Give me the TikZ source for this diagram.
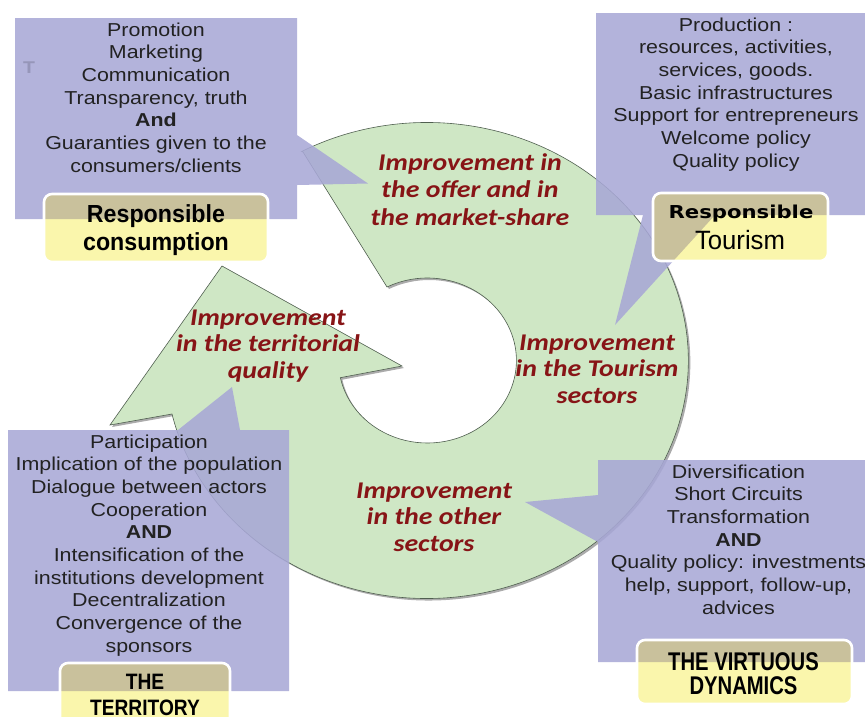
\documentclass[tikz,border=0pt]{standalone}
\usepackage{fontspec}
\setmainfont{Liberation Sans}
\newfontfamily\boxf{Liberation Sans}[FakeStretch=1.145]
\newfontfamily\lblA{Liberation Sans}[FakeStretch=0.94]
\newfontfamily\lblB{Liberation Sans}[FakeStretch=0.86]
\newfontfamily\lblC{Liberation Sans}[FakeStretch=0.79]
\newfontfamily\lblD{Liberation Sans}[FakeStretch=0.97]
\newfontfamily\blk{DejaVu Sans}[FakeStretch=1.19]
\newfontfamily\itf{Carlito}[FakeStretch=1.16]
\definecolor{ringgreen}{RGB}{207,231,197}
\definecolor{ringedge}{RGB}{80,95,80}
\definecolor{boxblue}{RGB}{168,168,214}
\definecolor{lblyellow}{RGB}{250,246,172}
\definecolor{lbltan}{RGB}{201,193,156}
\definecolor{txt}{RGB}{34,34,34}
\definecolor{impred}{RGB}{135,20,22}
\definecolor{tgray}{RGB}{150,150,185}
\newcommand{\lns}[1]{\begin{tabular}[t]{@{}c@{}}#1\end{tabular}}
\begin{document}
\begin{tikzpicture}[x=1pt,y=-1pt,
  ringfill/.style={fill=ringgreen, draw=ringedge, line width=0.6pt},
  ringshadow/.style={fill=black!55, fill opacity=0.6},
  bluebox/.style={fill=boxblue, fill opacity=0.88},
  lblbox/.style={fill=lblyellow, rounded corners=8pt},
  lblborder/.style={draw=white, line width=2.6pt, rounded corners=8pt},
  boxtext/.style={anchor=base, inner sep=0pt, text=txt, font=\boxf\fontsize{18.7}{22.7}\selectfont},
  imp/.style={anchor=base, inner sep=0pt, text=impred, font=\itf\bfseries\itshape\fontsize{24}{26.7}\selectfont},
  lbltext/.style={anchor=base, inner sep=0pt, text=black}]
\useasboundingbox (0,0) rectangle (865,716);
\def\ringpath{(303,152) -- (387,287) arc[start angle=243, end angle=528, x radius=89, y radius=82.5] -- (402,366) -- (222,266) -- (110,425) -- (172,414) arc[start angle=167, end angle=-118.6, x radius=261.5, y radius=238] -- cycle}
\def\blueA{(15,18) -- (297,18) -- (297,135) -- (368,183.5) -- (297,185) -- (297,219) -- (15,219) -- cycle}
\def\blueB{(596,13) -- (870,13) -- (870,215) -- (715,215) -- (615,325) -- (643,215) -- (596,215) -- cycle}
\def\blueC{(8,430) -- (178,430) -- (232,387) -- (240,430) -- (289,430) -- (289,691) -- (8,691) -- cycle}
\def\blueD{(598,460) -- (870,460) -- (870,662) -- (598,662) -- (598,542) -- (525,502) -- (598,495) -- cycle}
% ring arrow
\fill[ringshadow, shift={(2,2)}] \ringpath;
\path[ringfill] \ringpath;
% blue boxes
\fill[bluebox] \blueA;
\fill[bluebox] \blueB;
\fill[bluebox] \blueC;
\fill[bluebox] \blueD;
% labels
\fill[lblbox] (44,194) rectangle (268,262);
\begin{scope}\clip \blueA; \fill[lbltan, rounded corners=8pt] (44,194) rectangle (268,262);\end{scope}
\draw[lblborder] (44,194) rectangle (268,262);
\fill[lblbox] (653,193) rectangle (828,261);
\begin{scope}\clip \blueB; \fill[lbltan, rounded corners=8pt] (653,193) rectangle (828,261);\end{scope}
\draw[lblborder] (653,193) rectangle (828,261);
\fill[lblbox] (60,663) rectangle (230,735);
\begin{scope}\clip \blueC; \fill[lbltan, rounded corners=8pt] (60,663) rectangle (230,735);\end{scope}
\draw[lblborder] (60,663) rectangle (230,735);
\fill[lblbox] (637,640) rectangle (852,704);
\begin{scope}\clip \blueD; \fill[lbltan, rounded corners=8pt] (637,640) rectangle (852,704);\end{scope}
\draw[lblborder] (637,640) rectangle (852,704);
% box texts
\node[anchor=base, inner sep=0pt, text=tgray, font=\boxf\bfseries\fontsize{17}{17}\selectfont] (tmark) at (29,73.5) {T};
\node[boxtext] (tltext) at (156,36) {\lns{Promotion\\Marketing\\Communication\\Transparency, truth\\\textbf{And}\\Guaranties given to the\\consumers/clients}};
\node[boxtext] (trtext) at (736,31) {\lns{Production :\\resources, activities,\\services, goods.\\Basic infrastructures\\Support for entrepreneurs\\Welcome policy\\Quality policy}};
\node[boxtext] (bltext) at (149,448) {\lns{Participation\\Implication of the population\\Dialogue between actors\\Cooperation\\\textbf{AND}\\Intensification of the\\institutions development\\Decentralization\\Convergence of the\\sponsors}};
\node[boxtext] (brtext) at (738.5,478) {\lns{Diversification\\Short Circuits\\Transformation\\\textbf{AND}\\Quality policy: investments\\help, support, follow-up,\\advices}};
% label texts
\node[lbltext, font=\lblA\bfseries\fontsize{24.7}{28}\selectfont] (lblcons) at (156,222.7) {\lns{Responsible\\consumption}};
\node[lbltext, font=\blk\bfseries\fontsize{17.8}{20}\selectfont] (lbltour1) at (741,218) {Responsible};
\node[lbltext, font=\lblD\fontsize{26.5}{28}\selectfont] (lbltour2) at (740,249) {Tourism};
\node[lbltext, font=\lblB\bfseries\fontsize{22.3}{26}\selectfont] (lblterr) at (145,689) {\lns{THE\\TERRITORY}};
\node[lbltext, font=\lblC\bfseries\fontsize{25.6}{23}\selectfont] (lblvirt) at (743.5,670) {\lns{THE VIRTUOUS\\DYNAMICS}};
% improvement texts
\node[imp, font=\itf\bfseries\itshape\fontsize{24}{27.3}\selectfont] (impoffer) at (470,170.5) {\lns{Improvement in\\the offer and in\\the market-share}};
\node[imp] (impterr) at (268,325) {\lns{Improvement\\in the territorial\\quality}};
\node[imp] (imptour) at (597,350) {\lns{Improvement\\in the Tourism\\sectors}};
\node[imp] (impother) at (434,498) {\lns{Improvement\\in the other\\sectors}};
\end{tikzpicture}
\end{document}
